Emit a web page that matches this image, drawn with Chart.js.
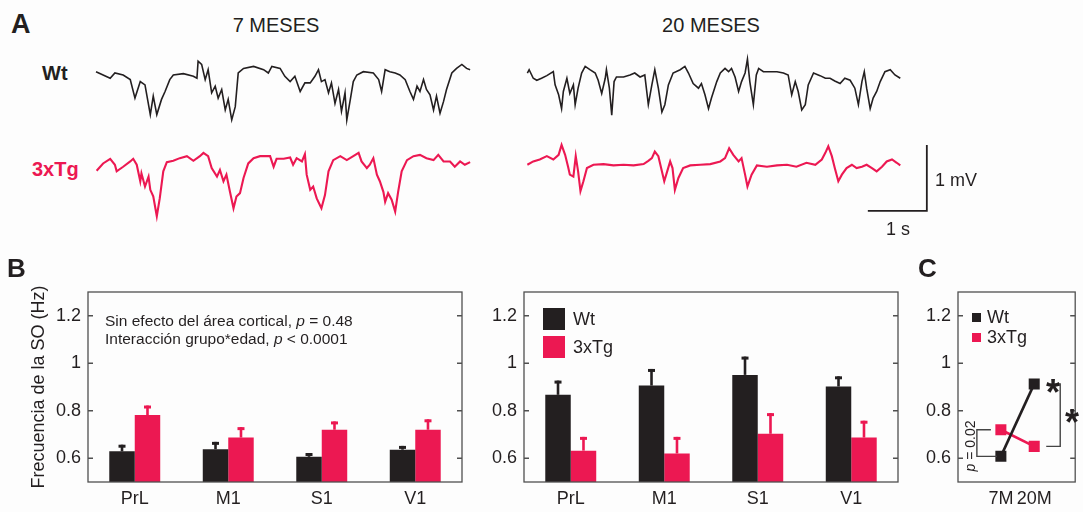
<!DOCTYPE html>
<html>
<head>
<meta charset="utf-8">
<script src="https://cdn.jsdelivr.net/npm/chart.js@4.4.1/dist/chart.umd.min.js"></script>
<style>
  body { margin: 0; width: 1083px; height: 512px; position: relative; overflow: hidden; background: #fdfdfd;
         font-family: "Liberation Sans", Arial, sans-serif; color: #231f20; }
  canvas { position: absolute; }
  .t { position: absolute; line-height: 1; white-space: nowrap; transform: translateY(-50%); }
  .m { transform: translate(-50%, -50%); }
  .sq { position: absolute; }
</style>
</head>
<body>
<canvas id="traces" width="910" height="200" style="left:90px;top:40px"></canvas>
<canvas id="b7" width="470" height="242" style="left:0;top:270px"></canvas>
<canvas id="b20" width="435" height="242" style="left:470px;top:270px"></canvas>
<canvas id="c" width="178" height="242" style="left:905px;top:270px"></canvas>

<div class="t" style="left:11px;top:24px;font-size:27px;font-weight:bold">A</div>
<div class="t m" style="left:276px;top:25px;font-size:20px">7 MESES</div>
<div class="t m" style="left:711px;top:25px;font-size:20px">20 MESES</div>
<div class="t" style="left:42px;top:73px;font-size:20px;font-weight:bold">Wt</div>
<div class="t" style="left:32px;top:169px;font-size:20px;font-weight:bold;color:#ec1852">3xTg</div>
<div class="t" style="left:935px;top:180px;font-size:18px">1 mV</div>
<div class="t m" style="left:898px;top:229px;font-size:18px">1 s</div>

<div class="t" style="left:7px;top:268px;font-size:26px;font-weight:bold">B</div>
<div class="t" style="left:105px;top:321px;font-size:15.5px">Sin efecto del área cortical, <i>p</i> = 0.48</div>
<div class="t" style="left:105px;top:339px;font-size:15.5px">Interacción grupo*edad, <i>p</i> &lt; 0.0001</div>
<div class="sq" style="left:543px;top:308px;width:22px;height:22px;background:#231f20"></div>
<div class="sq" style="left:543px;top:336px;width:22px;height:22px;background:#ec1852"></div>
<div class="t" style="left:573px;top:319px;font-size:18px">Wt</div>
<div class="t" style="left:573px;top:347px;font-size:18px">3xTg</div>

<div class="t" style="left:918px;top:268px;font-size:26px;font-weight:bold">C</div>
<div class="sq" style="left:972px;top:313px;width:9px;height:9px;background:#231f20"></div>
<div class="sq" style="left:972px;top:333px;width:9px;height:9px;background:#ec1852"></div>
<div class="t" style="left:987px;top:317px;font-size:18px">Wt</div>
<div class="t" style="left:987px;top:337px;font-size:18px">3xTg</div>
<div class="t" style="left:970px;top:446px;font-size:14px;transform:translate(-50%,-50%) rotate(-90deg)"><i>p</i> = 0.02</div>
<div class="t m" style="left:1053px;top:393px;font-size:36px;font-weight:bold">*</div>
<div class="t m" style="left:1072px;top:423px;font-size:36px;font-weight:bold">*</div>

<script>
const BLACK = '#231f20';
const RED = '#ec1852';
const FONT = '"Liberation Sans", Arial, sans-serif';

// A: traces, [time (s), mV relative to the up-state level]
const wt7m = [[0,-0.06],[0.24,-0.16],[0.32,-0.08],[0.46,-0.11],[0.58,-0.18],[0.66,-0.46],[0.75,-0.21],[0.83,-0.26],[0.92,-0.71],[0.97,-0.43],[1.03,-0.71],[1.11,-0.48],[1.17,-0.36],[1.25,-0.18],[1.31,-0.11],[1.48,-0.09],[1.65,-0.13],[1.71,-0.16],[1.73,0.10],[1.79,0.05],[1.85,-0.18],[1.90,-0.03],[1.96,-0.38],[2.02,-0.28],[2.07,-0.46],[2.13,-0.33],[2.19,-0.64],[2.24,-0.48],[2.30,-0.79],[2.36,-0.59],[2.41,-0.08],[2.50,-0.01],[2.67,0.02],[2.84,-0.03],[2.92,-0.08],[2.98,0.02],[3.12,-0.01],[3.20,-0.13],[3.29,-0.21],[3.37,-0.13],[3.46,-0.36],[3.54,-0.23],[3.63,-0.23],[3.71,-0.13],[3.77,-0.03],[3.82,-0.21],[3.88,-0.18],[3.94,-0.38],[3.99,-0.23],[4.05,-0.54],[4.11,-0.33],[4.16,-0.66],[4.22,-0.38],[4.25,-0.79],[4.31,-0.48],[4.36,-0.21],[4.42,-0.11],[4.53,-0.06],[4.70,-0.08],[4.79,-0.18],[4.84,-0.36],[4.90,-0.03],[4.98,-0.06],[5.07,-0.08],[5.15,-0.11],[5.24,-0.18],[5.32,-0.36],[5.38,-0.48],[5.44,-0.28],[5.49,-0.36],[5.55,-0.18],[5.60,-0.33],[5.66,-0.41],[5.72,-0.64],[5.77,-0.43],[5.83,-0.69],[5.89,-0.51],[5.94,-0.33],[6.03,-0.08],[6.11,-0.01],[6.20,0.05],[6.28,-0.01],[6.34,-0.03]];
const tg7m = [[0.01,-0.19],[0.12,-0.08],[0.24,-0.01],[0.32,-0.10],[0.35,-0.20],[0.46,-0.13],[0.58,-0.05],[0.63,-0.01],[0.69,-0.10],[0.75,-0.35],[0.77,-0.23],[0.83,-0.43],[0.89,-0.28],[0.92,-0.48],[0.97,-0.58],[1.03,-0.88],[1.08,-0.61],[1.14,-0.20],[1.20,-0.06],[1.31,-0.04],[1.42,0.00],[1.54,0.03],[1.65,-0.04],[1.76,0.03],[1.82,0.08],[1.90,0.03],[1.96,-0.15],[2.05,-0.28],[2.10,-0.18],[2.16,-0.35],[2.21,-0.25],[2.27,-0.51],[2.33,-0.76],[2.38,-0.58],[2.44,-0.53],[2.50,-0.30],[2.58,-0.08],[2.67,0.00],[2.78,0.03],[2.95,0.03],[3.01,-0.13],[3.06,-0.01],[3.18,-0.01],[3.29,0.01],[3.34,-0.10],[3.40,0.00],[3.49,-0.05],[3.54,0.06],[3.57,-0.25],[3.63,-0.48],[3.68,-0.43],[3.74,-0.61],[3.82,-0.76],[3.88,-0.56],[3.94,-0.20],[4.02,-0.03],[4.14,0.03],[4.25,-0.03],[4.36,0.03],[4.45,0.08],[4.50,-0.05],[4.59,-0.15],[4.64,-0.10],[4.70,0.00],[4.76,-0.25],[4.81,-0.35],[4.87,-0.51],[4.90,-0.66],[4.95,-0.53],[5.01,-0.63],[5.07,-0.81],[5.12,-0.51],[5.18,-0.20],[5.27,-0.03],[5.38,0.03],[5.49,0.05],[5.60,0.00],[5.72,-0.03],[5.80,0.05],[5.89,-0.05],[6.00,-0.05],[6.08,-0.13],[6.17,-0.05],[6.25,-0.10],[6.34,-0.06]];
const wt20m = [[0,0.03],[0.03,0.08],[0.10,-0.05],[0.16,-0.08],[0.24,-0.05],[0.33,-0.01],[0.44,0.05],[0.47,-0.15],[0.53,-0.30],[0.58,-0.51],[0.61,-0.25],[0.67,-0.05],[0.72,-0.28],[0.78,-0.15],[0.81,-0.45],[0.86,-0.20],[0.92,0.03],[0.98,0.13],[1.06,0.08],[1.15,0.03],[1.20,-0.08],[1.26,-0.28],[1.32,-0.05],[1.34,0.08],[1.39,-0.20],[1.43,-0.61],[1.47,-0.10],[1.51,-0.03],[1.63,-0.03],[1.74,0.00],[1.82,0.03],[1.91,-0.03],[1.99,0.00],[2.05,-0.45],[2.11,-0.15],[2.16,0.08],[2.22,-0.20],[2.28,-0.56],[2.33,-0.45],[2.39,-0.15],[2.47,0.03],[2.59,0.08],[2.67,0.13],[2.73,0.03],[2.81,-0.13],[2.90,-0.20],[2.95,-0.13],[3.01,-0.30],[3.07,-0.51],[3.12,-0.35],[3.21,-0.10],[3.27,0.03],[3.35,0.10],[3.41,0.05],[3.46,0.10],[3.52,-0.03],[3.58,-0.25],[3.63,-0.10],[3.69,0.03],[3.73,0.24],[3.77,-0.10],[3.83,-0.45],[3.88,0.00],[3.92,0.10],[4.00,0.05],[4.11,0.05],[4.23,0.05],[4.34,0.03],[4.42,0.00],[4.48,-0.30],[4.54,-0.10],[4.59,-0.25],[4.65,-0.53],[4.71,-0.45],[4.76,-0.15],[4.85,0.03],[4.96,-0.01],[5.05,-0.05],[5.13,-0.05],[5.21,-0.09],[5.30,-0.13],[5.38,-0.05],[5.47,-0.08],[5.55,-0.20],[5.61,-0.45],[5.67,-0.10],[5.71,0.05],[5.75,-0.20],[5.81,-0.51],[5.86,-0.35],[5.92,-0.25],[5.98,-0.10],[6.06,0.05],[6.15,0.08],[6.23,0.00],[6.32,-0.05]];
const tg20m = [[0,0],[0.10,0.05],[0.21,0.08],[0.33,0.13],[0.44,0.08],[0.53,0.15],[0.58,0.30],[0.64,0.15],[0.69,-0.03],[0.72,-0.15],[0.78,-0.18],[0.82,0.13],[0.86,-0.10],[0.90,-0.40],[0.95,-0.25],[1.01,-0.05],[1.12,0],[1.29,0.01],[1.46,-0.01],[1.63,0],[1.80,-0.01],[1.97,0.01],[2.05,0.06],[2.11,0.10],[2.16,0.20],[2.22,0.13],[2.28,-0.10],[2.32,-0.25],[2.37,-0.10],[2.42,0.05],[2.46,-0.05],[2.50,-0.38],[2.56,-0.20],[2.64,-0.05],[2.76,-0.01],[2.93,0],[3.10,0.01],[3.27,0.05],[3.35,0.10],[3.42,0.25],[3.49,0.15],[3.58,0.05],[3.63,0.10],[3.69,-0.15],[3.73,-0.33],[3.80,-0.15],[3.89,-0.01],[4.06,-0.03],[4.23,-0.01],[4.40,0],[4.56,-0.03],[4.73,0.03],[4.88,0],[4.99,0.08],[5.05,0.18],[5.10,0.28],[5.16,0.13],[5.21,-0.05],[5.27,-0.25],[5.33,-0.15],[5.41,-0.05],[5.50,0],[5.58,-0.05],[5.67,-0.03],[5.75,0],[5.84,-0.05],[5.92,-0.10],[6.01,-0.03],[6.09,0.05],[6.18,0.08],[6.26,0.03],[6.32,-0.01]];
const scaleBarSec = 1;
const scaleBarMv = 1;

// B: slow oscillation frequency (Hz), mean and SEM per cortical area
const regions = ['PrL', 'M1', 'S1', 'V1'];
const wt7 = [0.629, 0.638, 0.606, 0.636];
const wt7Sem = [0.028, 0.031, 0.016, 0.016];
const tg7 = [0.782, 0.687, 0.720, 0.720];
const tg7Sem = [0.040, 0.044, 0.035, 0.044];
const wt20 = [0.867, 0.906, 0.951, 0.902];
const wt20Sem = [0.060, 0.070, 0.077, 0.043];
const tg20 = [0.632, 0.620, 0.703, 0.687];
const tg20Sem = [0.058, 0.070, 0.087, 0.071];
const yTicks = [0.6, 0.8, 1, 1.2];

// C: mean over areas by age
const ages = ['7M', '20M'];
const wtAge = [0.608, 0.913];
const tgAge = [0.720, 0.650];

function trace(points, t0, v0, color, width) {
    return {
        data: points.map(p => ({ x: t0 + p[0], y: v0 + p[1] })),
        borderColor: color,
        borderWidth: width,
        pointRadius: 0,
        tension: 0
    };
}

// 20 month traces start after a gap, scale bar sits past their end
const t20 = 7.31;
const barCorner = { x: 14.08, y: -2.59 };

new Chart(document.getElementById('traces'), {
    type: 'line',
    data: {
        datasets: [
            trace(wt7m, 0, -0.42, BLACK, 1.6),
            trace(tg7m, 0, -1.79, RED, 2.1),
            trace(wt20m, t20, -0.53, BLACK, 1.6),
            trace(tg20m, t20, -1.89, RED, 2.1),
            {
                data: [
                    { x: barCorner.x - scaleBarSec, y: barCorner.y },
                    { x: barCorner.x, y: barCorner.y },
                    { x: barCorner.x, y: barCorner.y + scaleBarMv }
                ],
                borderColor: BLACK, borderWidth: 1.8, pointRadius: 0, borderJoinStyle: 'miter'
            }
        ]
    },
    options: {
        responsive: false,
        animation: false,
        layout: { padding: 0 },
        plugins: { legend: { display: false }, tooltip: { enabled: false } },
        scales: {
            x: { type: 'linear', display: false, min: -0.102, max: 15.32 },
            y: { type: 'linear', display: false, min: -3.03, max: 0 }
        }
    }
});

// box around the plot area with inward ticks on both sides (matlab look)
const frame = {
    id: 'frame',
    afterDraw(chart) {
        const { ctx, chartArea: a, scales: { y } } = chart;
        ctx.save();
        ctx.strokeStyle = '#505050';
        ctx.lineWidth = 1.3;
        ctx.strokeRect(a.left, a.top, a.right - a.left, a.bottom - a.top);
        ctx.beginPath();
        y.ticks.forEach(t => {
            const py = y.getPixelForValue(t.value);
            ctx.moveTo(a.left, py); ctx.lineTo(a.left + 5, py);
            ctx.moveTo(a.right, py); ctx.lineTo(a.right - 5, py);
        });
        ctx.stroke();
        ctx.restore();
    }
};

// one-sided SEM bars
const errorBars = {
    id: 'errorBars',
    afterDatasetsDraw(chart) {
        const { ctx, scales: { y } } = chart;
        ctx.save();
        chart.data.datasets.forEach((ds, i) => {
            chart.getDatasetMeta(i).data.forEach((bar, j) => {
                const top = y.getPixelForValue(ds.data[j] + ds.sem[j]);
                ctx.strokeStyle = ds.backgroundColor;
                ctx.lineWidth = 2.6;
                ctx.beginPath();
                ctx.moveTo(bar.x, bar.y);
                ctx.lineTo(bar.x, top);
                ctx.stroke();
                ctx.lineWidth = 3;
                ctx.beginPath();
                ctx.moveTo(bar.x - 3.5, top + 1.5);
                ctx.lineTo(bar.x + 3.5, top + 1.5);
                ctx.stroke();
            });
        });
        ctx.restore();
    }
};

function freqAxis(width, title) {
    return {
        min: 0.5,
        max: 1.3,
        afterBuildTicks: s => { s.ticks = yTicks.map(v => ({ value: v })); },
        afterFit: s => { s.width = width; },
        grid: { display: false, drawTicks: false },
        border: { display: false },
        ticks: {
            padding: 7, color: BLACK, font: { family: FONT, size: 18 },
            callback: v => v === 1 ? '1' : v.toFixed(1)
        },
        title: {
            display: !!title, text: title || '', color: BLACK,
            font: { family: FONT, size: 18 }, padding: { top: 28, bottom: 0 }
        }
    };
}

function makeBars(id, wt, wtSem, tg, tgSem, yWidth, title, padRight) {
    return new Chart(document.getElementById(id), {
        type: 'bar',
        data: {
            labels: regions,
            datasets: [
                { label: 'Wt', data: wt, sem: wtSem, backgroundColor: BLACK, categoryPercentage: 0.545, barPercentage: 1 },
                { label: '3xTg', data: tg, sem: tgSem, backgroundColor: RED, categoryPercentage: 0.545, barPercentage: 1 }
            ]
        },
        options: {
            responsive: false,
            animation: false,
            layout: { padding: { top: 22, right: padRight, left: 0, bottom: 0 } },
            plugins: { legend: { display: false }, tooltip: { enabled: false } },
            scales: {
                x: {
                    grid: { display: false, drawTicks: false },
                    border: { display: false },
                    afterFit: s => { s.height = 30; },
                    ticks: { padding: 6, color: BLACK, font: { family: FONT, size: 18 } }
                },
                y: freqAxis(yWidth, title)
            }
        },
        plugins: [frame, errorBars]
    });
}

makeBars('b7', wt7, wt7Sem, tg7, tg7Sem, 88, 'Frecuencia de la SO (Hz)', 8);
makeBars('b20', wt20, wt20Sem, tg20, tg20Sem, 54, '', 7);

// significance brackets in C
const brackets = {
    id: 'brackets',
    afterDatasetsDraw(chart) {
        const { ctx, scales: { x, y } } = chart;
        const x7 = x.getPixelForValue(0), x20 = x.getPixelForValue(1);
        ctx.save();
        ctx.strokeStyle = '#444';
        ctx.lineWidth = 1.4;
        ctx.beginPath();
        ctx.moveTo(x7 - 10, y.getPixelForValue(tgAge[0]));
        ctx.lineTo(x7 - 24, y.getPixelForValue(tgAge[0]));
        ctx.lineTo(x7 - 24, y.getPixelForValue(wtAge[0]));
        ctx.lineTo(x7 - 4, y.getPixelForValue(wtAge[0]));
        ctx.moveTo(x20 + 16, y.getPixelForValue(wtAge[1]));
        ctx.lineTo(x20 + 26, y.getPixelForValue(wtAge[1]));
        ctx.lineTo(x20 + 26, y.getPixelForValue(tgAge[1]));
        ctx.lineTo(x20 + 12, y.getPixelForValue(tgAge[1]));
        ctx.stroke();
        ctx.restore();
    }
};

function ageLine(label, values, color) {
    return {
        label,
        data: values.map((v, i) => ({ x: i, y: v })),
        borderColor: color,
        borderWidth: 2.6,
        pointStyle: 'rect',
        pointRadius: 7.8,
        pointBorderWidth: 0,
        pointBackgroundColor: color,
        tension: 0
    };
}

new Chart(document.getElementById('c'), {
    type: 'line',
    data: { datasets: [ageLine('Wt', wtAge, BLACK), ageLine('3xTg', tgAge, RED)] },
    options: {
        responsive: false,
        animation: false,
        layout: { padding: { top: 22, right: 1.5, left: 0, bottom: 0 } },
        plugins: { legend: { display: false }, tooltip: { enabled: false } },
        scales: {
            x: {
                type: 'linear', min: -1.286, max: 2.229,
                afterBuildTicks: s => { s.ticks = ages.map((a, i) => ({ value: i })); },
                afterFit: s => { s.height = 30; },
                grid: { display: false, drawTicks: false },
                border: { display: false },
                ticks: { padding: 6, color: BLACK, font: { family: FONT, size: 18 }, callback: v => ages[v] }
            },
            y: freqAxis(53)
        }
    },
    plugins: [frame, brackets]
});
</script>
</body>
</html>
